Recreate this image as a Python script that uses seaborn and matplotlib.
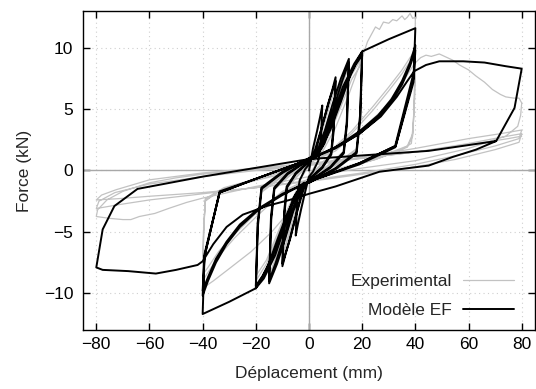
import matplotlib
matplotlib.use("Agg")
import matplotlib.pyplot as plt
import seaborn as sns
import numpy as np
import pandas as pd

# ---------------- data ----------------
# Experimental hysteresis path, split into cycles (x = displacement mm, y = force kN)
exp_c05_x = [0, 2, 4, 5, 4.5, 3.5, 0, -2, -4, -5, -4.5, -3.5, 0]
exp_c05_y = [0, 2.0, 4.0, 4.8, 2.0, 0.8, -0.4, -2.0, -4.0, -4.8, -2.0, -0.8, 0.4]
exp_c10_x = [3, 6, 8.5, 10, 9.4, 8.5, 4, 0, -3, -6, -8.5, -10, -9.4, -8.5, -4, 0,
             3, 6, 8.5, 10, 9.4, 8.5, 4, 0, -3, -6, -8.5, -10, -9.4, -8.5, -4, 0]
exp_c10_y = [1.8, 4.2, 6.0, 7.0, 3.5, 1.5, 0.4, -0.5, -1.8, -4.2, -6.0, -7.1, -3.5, -1.5, -0.4, 0.5,
             1.7, 4.0, 5.8, 6.8, 3.3, 1.4, 0.3, -0.5, -1.7, -4.0, -5.8, -6.9, -3.3, -1.4, -0.3, 0.5]
exp_c15_x = [3, 7, 10, 13, 15, 14.4, 13.2, 7, 0, -3, -7, -10, -13, -15, -14.4, -13.2, -7, 0,
             3, 7, 10, 13, 15, 14.4, 13.2, 7, 0, -3, -7, -10, -13, -15, -14.4, -13.2, -7, 0]
exp_c15_y = [1.4, 3.5, 5.6, 7.6, 8.7, 4.0, 1.6, 0.4, -0.6, -1.4, -3.6, -5.8, -7.7, -8.8, -4.0, -1.6, -0.4, 0.6,
             1.3, 3.3, 5.3, 7.3, 8.4, 3.8, 1.5, 0.3, -0.6, -1.3, -3.4, -5.5, -7.4, -8.5, -3.8, -1.5, -0.3, 0.6]
exp_c20_x = [4, 8, 12, 16, 20, 19.4, 18, 10, 0, -4, -8, -12, -16, -20, -19.4, -18, -10, 0,
             4, 8, 12, 16, 20, 19.4, 18, 10, 0, -4, -8, -12, -16, -20, -19.4, -18, -10, 0]
exp_c20_y = [1.4, 3.4, 5.6, 7.8, 9.2, 4.5, 1.8, 0.5, -0.6, -1.4, -3.3, -5.5, -7.6, -9.0, -4.5, -1.8, -0.5, 0.6,
             1.3, 3.1, 5.2, 7.4, 8.8, 4.2, 1.7, 0.4, -0.6, -1.3, -3.1, -5.2, -7.3, -8.6, -4.2, -1.7, -0.4, 0.6]
exp_c40a_x = [5, 10, 15, 18, 20, 22, 25, 26.5, 28, 30, 31.5, 33, 35, 36, 37, 38, 39, 40,
              39.8, 39.3, 38.5, 34, 25, 15, 0, -7.3, -14, -21.7, -30, -36, -40,
              -39.7, -39, -34, -22, -10, 0]
exp_c40a_y = [1.5, 3.5, 6.2, 8.0, 9.2, 10.5, 11.7, 11.5, 12.1, 12.0, 12.3, 12.2, 12.6, 12.3, 12.5, 12.8, 12.4, 12.5,
              8.0, 4.0, 2.2, 1.6, 0.9, 0.3, -0.7, -3.3, -5.0, -6.6, -8.0, -9.0, -9.6,
              -5.0, -2.5, -1.7, -0.9, -0.3, 0.6]
exp_c40b_x = [8, 16, 24, 30, 35, 38, 40, 39.7, 39, 37, 25, 12, 0, -10, -20, -28, -34, -38, -40,
              -39.6, -39, -32, -20, 0]
exp_c40b_y = [1.6, 3.2, 5.2, 6.8, 8.2, 9.2, 9.8, 6.0, 3.0, 2.0, 1.0, 0.2, -0.7, -1.8, -3.8, -5.5, -7.0, -8.3, -9.0,
              -5.0, -2.4, -1.5, -0.8, 0.6]
exp_c40c_x = [8, 16, 24, 30, 35, 38, 40, 39.7, 39, 37, 25, 12, 0, -10, -20, -28, -34, -38, -40,
              -39.6, -39, -32, -20, 0]
exp_c40c_y = [1.5, 3.0, 4.9, 6.5, 7.9, 8.9, 9.4, 5.8, 2.8, 1.9, 0.9, 0.1, -0.7, -1.7, -3.5, -5.2, -6.6, -7.9, -8.5,
              -4.8, -2.3, -1.4, -0.7, 0.6]
exp_c80a_x = [10, 20, 28, 34, 37, 39.6, 42, 44, 46, 49, 52, 54, 56.6, 60, 62.8, 66, 69, 72, 74, 77, 79, 80,
              79.6, 78.5, 74, 60, 40, 20, 0, -20, -40, -46, -52.5, -58, -63.8, -67, -70, -75, -80,
              -79.5, -76, -70, -60, -50, -40, -20, 0, 20, 40, 60, 72, 80]
exp_c80a_y = [1.6, 3.4, 5.0, 6.8, 7.8, 8.7, 9.2, 9.4, 9.3, 9.5, 9.2, 9.0, 8.6, 8.2, 7.7, 7.2, 6.6, 6.2, 6.0, 5.9, 5.9, 5.5,
              4.5, 3.6, 2.8, 1.8, 0.8, 0.2, -0.5, -1.3, -2.25, -2.6, -3.07, -3.5, -3.75, -4.0, -4.0, -3.9, -3.75,
              -3.2, -2.4, -1.7, -1.0, -0.6, -0.3, 0.1, 0.5, 1.1, 1.8, 2.6, 3.0, 3.3]
exp_c80b_x = [79, 70, 55, 40, 20, 0, -20, -40, -60, -72, -80, -79, -73, -60, -40, -20, 0, 20, 40, 60, 72, 80]
exp_c80b_y = [2.6, 2.0, 1.2, 0.5, -0.2, -0.8, -1.4, -1.9, -2.4, -2.8, -3.1, -2.5, -1.8, -1.1, -0.5, 0.0, 0.4, 1.0,
              1.5, 2.2, 2.7, 3.0]
exp_c80c_x = [79, 70, 55, 40, 20, 0, -20, -40, -60, -72, -80, -78, -72.6, -60, -40, -20, 0, 20, 40, 60, 75, 80]
exp_c80c_y = [2.3, 1.7, 0.9, 0.3, -0.3, -0.9, -1.4, -1.8, -2.1, -2.3, -2.4, -2.0, -1.57, -0.76, -0.2, 0.2, 0.6,
              1.0, 1.5, 2.1, 2.6, 2.8]

# Finite element model path, split into cycles
mod_c05_x = [0, 1.5, 3, 4.2, 5, 4.4, 3.5, 1.5, 0, -1.5, -3, -4.2, -5, -4.4, -3.5, -1.5, 0]
mod_c05_y = [0, 1.8, 3.2, 4.4, 5.3, 2.0, 0.8, -0.1, -0.5, -1.8, -3.2, -4.4, -5.3, -2.0, -0.8, 0.1, 0.5]
mod_c10_x = [2, 4.5, 7, 8.8, 10, 9.2, 8.3, 5, 0, -2, -4.5, -7, -8.8, -10, -9.2, -8.3, -5, 0,
             2.5, 5, 7.5, 10, 9.3, 8.4, 5, 0, -2.5, -5, -7.5, -10, -9.3, -8.4, -5, 0]
mod_c10_y = [1.5, 3.3, 5.3, 6.6, 7.6, 3.5, 1.4, 0.3, -0.7, -1.5, -3.4, -5.5, -6.8, -7.8, -3.5, -1.4, -0.3, 0.7,
             1.6, 3.6, 5.6, 7.3, 3.3, 1.3, 0.2, -0.8, -1.6, -3.7, -5.8, -7.6, -3.3, -1.3, -0.2, 0.8]
mod_c15_x = [3, 6, 9, 12, 15, 14.2, 13, 8, 0, -3, -6, -9, -12, -15, -14.2, -13, -8, 0,
             3.5, 7, 10, 12.5, 15, 14.3, 13.1, 8, 0, -3.5, -7, -10, -12.5, -15, -14.3, -13.1, -8, 0]
mod_c15_y = [1.5, 3.3, 5.5, 7.5, 9.1, 4.0, 1.5, 0.3, -0.9, -1.6, -3.4, -5.6, -7.6, -9.2, -4.0, -1.5, -0.3, 0.9,
             1.5, 3.6, 5.6, 7.3, 8.8, 3.8, 1.4, 0.2, -0.9, -1.5, -3.7, -5.8, -7.5, -9.0, -3.8, -1.4, -0.2, 0.9]
mod_c20_x = [2, 5.2, 8.3, 12.7, 17, 20, 19.2, 17.8, 10, 0, -2, -5.2, -8.3, -12.7, -17, -20, -19.2, -17.8, -10, 0,
             2.5, 5.8, 9, 13.5, 17.5, 20, 19.3, 17.9, 10, 0, -2.5, -5.8, -9, -13.5, -17.5, -20, -19.3, -17.9, -10, 0]
mod_c20_y = [1.0, 2.0, 4.1, 6.8, 8.7, 9.7, 4.5, 1.5, 0.2, -1.0, -1.0, -2.0, -4.1, -6.9, -8.8, -9.6, -4.5, -1.5, -0.2, 1.0,
             1.1, 2.2, 4.2, 6.8, 8.6, 9.4, 4.3, 1.4, 0.1, -1.0, -1.1, -2.2, -4.2, -6.9, -8.6, -9.4, -4.3, -1.4, -0.1, 1.0]
mod_c40_x = [4, 8, 12, 16, 20, 30, 40, 39.4, 32.4, 19, 0, -4, -8, -12, -16, -20, -30, -40,
             -39.3, -33.6, -19, 0,
             10, 19, 26, 31, 35, 38, 40, 39.3, 32.6, 19, 0, -10, -19, -26, -31, -35, -38, -40,
             -39.3, -33.6, -19, 0,
             10, 19, 26, 31, 35, 38, 40, 39.3, 32.5, 19, 0, -10, -19, -26, -31, -35, -38, -40,
             -39.3, -33.6, -19, 0]
mod_c40_y = [1.6, 3.3, 5.6, 8.1, 9.7, 10.7, 11.6, 8.0, 2.0, 0.6, -0.9, -1.7, -3.4, -5.7, -8.1, -9.6, -10.7, -11.7,
             -7.0, -1.7, -0.6, 0.9,
             1.9, 3.2, 4.5, 5.8, 7.3, 8.8, 10.2, 7.5, 2.0, 0.6, -0.9, -2.0, -3.2, -4.6, -6.0, -7.5, -9.0, -10.2,
             -7.0, -1.8, -0.6, 0.9,
             1.8, 3.0, 4.3, 5.6, 7.0, 8.5, 9.8, 7.2, 1.9, 0.5, -0.9, -1.9, -3.1, -4.4, -5.8, -7.2, -8.7, -9.8,
             -6.8, -1.8, -0.6, 0.9]
mod_c80_x = [10, 19, 27, 33, 37, 39.6, 44, 49, 58, 66, 74, 80, 77.3, 70.4, 62.8, 54, 45, 26.5, 10, 0,
             -7.3, -16, -24.9, -31, -36, -40, -41.9, -50, -57.6, -68, -77.6, -80,
             -77.6, -73.2, -64.5, -40, 0, 25, 45, 70.4]
mod_c80_y = [1.9, 3.0, 4.4, 6.0, 7.3, 8.1, 8.6, 8.9, 8.9, 8.8, 8.5, 8.3, 5.1, 2.4, 1.7, 1.1, 0.4, -0.1, -1.3, -1.9,
             -2.4, -2.9, -3.6, -4.6, -6.0, -7.4, -7.7, -8.1, -8.4, -8.2, -8.1, -7.9,
             -4.8, -2.9, -1.5, -0.5, 0.93, 1.3, 1.6, 2.4]

x_ticks = [-80, -60, -40, -20, 0, 20, 40, 60, 80]
y_ticks = [-10, -5, 0, 5, 10]
series_labels = ["Experimental", "Modèle EF"]

# ---------------- assemble ----------------
exp_x = (exp_c05_x + exp_c10_x + exp_c15_x + exp_c20_x + exp_c40a_x + exp_c40b_x + exp_c40c_x
         + exp_c80a_x + exp_c80b_x + exp_c80c_x)
exp_y = (exp_c05_y + exp_c10_y + exp_c15_y + exp_c20_y + exp_c40a_y + exp_c40b_y + exp_c40c_y
         + exp_c80a_y + exp_c80b_y + exp_c80c_y)
mod_x = mod_c05_x + mod_c10_x + mod_c15_x + mod_c20_x + mod_c40_x + mod_c80_x
mod_y = mod_c05_y + mod_c10_y + mod_c15_y + mod_c20_y + mod_c40_y + mod_c80_y

df_exp = pd.DataFrame({"x": exp_x, "y": exp_y})
df_mod = pd.DataFrame({"x": mod_x, "y": mod_y})

# ---------------- style ----------------
sns.set_style("ticks")
plt.rcParams["font.family"] = ["Liberation Sans", "DejaVu Sans"]
plt.rcParams["axes.unicode_minus"] = True
FS = 12.5

fig = plt.figure(figsize=(5.36, 3.89), dpi=100)
ax = fig.add_axes([83 / 536, 1 - 330 / 389, (535 - 83) / 536, (330 - 11) / 389])

ax.set_xlim(-85, 85)
ax.set_ylim(-13, 13)
ax.set_xticks(x_ticks)
ax.set_yticks(y_ticks)
ax.grid(True, linestyle=(0, (1, 3)), color="#cfcfcf", linewidth=0.8, zorder=0)
ax.axhline(0, color="#a8a8a8", linewidth=1.0, zorder=1)
ax.axvline(0, color="#a8a8a8", linewidth=1.0, zorder=1)

sns.lineplot(data=df_exp, x="x", y="y", sort=False, estimator=None, color="#c2c2c2",
             linewidth=0.9, label=series_labels[0], ax=ax, zorder=2)
sns.lineplot(data=df_mod, x="x", y="y", sort=False, estimator=None, color="black",
             linewidth=1.4, label=series_labels[1], ax=ax, zorder=3)

for s in ax.spines.values():
    s.set_visible(True)
    s.set_color("black")
    s.set_linewidth(1.0)

ax.tick_params(direction="in", length=5, width=1, top=True, right=True,
               labelsize=FS, colors="black")
ax.tick_params(axis="x", pad=5)
ax.tick_params(axis="y", pad=7)

ax.set_xlabel("Déplacement (mm)", fontsize=FS)
ax.set_ylabel("Force (kN)", fontsize=FS)
ax.xaxis.set_label_coords(0.5, -0.113)
ax.yaxis.set_label_coords(-0.113, 0.5)

ax.legend(loc="lower right", bbox_to_anchor=(0.97, 0.016), borderaxespad=0, frameon=False,
          markerfirst=False, handlelength=2.95, fontsize=FS, labelspacing=0.8,
          handletextpad=0.65)

fig.savefig("out.png", dpi=100)
